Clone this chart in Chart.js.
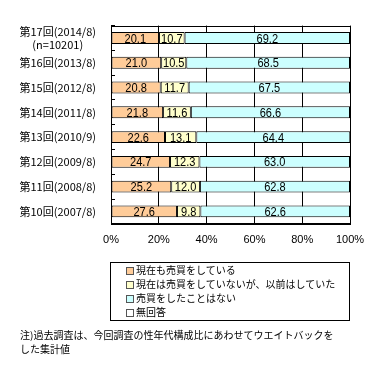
<!DOCTYPE html>
<html>
<head>
<meta charset="utf-8">
<script src="https://cdn.jsdelivr.net/npm/chart.js@4"></script>
<style>
  body { margin: 0; background: #fff; }
  #wrap { position: relative; width: 386px; height: 377px; }
  #legend {
    position: absolute; left: 110px; top: 262px; width: 240px; height: 59px;
    box-sizing: border-box; border: 1px solid #000; padding: 0 0 0 15px;
    font: 10px "Noto Sans CJK JP", sans-serif; line-height: 14px; color: #000;
  }
  #legend .sw {
    display: inline-block; width: 6px; height: 6px; border: 1px solid #555;
    margin-right: 2px; vertical-align: -1px;
  }
  #note {
    position: absolute; left: 20px; top: 328px; width: 360px;
    font: 10px "Noto Sans CJK JP", sans-serif; line-height: 14px; color: #000;
  }
</style>
</head>
<body>
<div id="wrap">
  <canvas id="survey" width="386" height="377"></canvas>
  <div id="legend"></div>
  <div id="note">注)過去調査は、今回調査の性年代構成比にあわせてウエイトバックを<br>した集計値</div>
</div>
<script>
// survey rounds, newest on top
var rounds = ['第17回(2014/8)', '第16回(2013/8)', '第15回(2012/8)', '第14回(2011/8)',
              '第13回(2010/9)', '第12回(2009/8)', '第11回(2008/8)', '第10回(2007/8)'];
var sampleSize = '(n=10201)';
var seriesNames = ['現在も売買をしている', '現在は売買をしていないが、以前はしていた', '売買をしたことはない', '無回答'];
var tradingNow = [20.1, 21.0, 20.8, 21.8, 22.6, 24.7, 25.2, 27.6];
var tradedBefore = [10.7, 10.5, 11.7, 11.6, 13.1, 12.3, 12.0, 9.8];
var neverTraded = [69.2, 68.5, 67.5, 66.6, 64.4, 63.0, 62.8, 62.6];
var noAnswer = [0, 0, 0, 0, 0, 0, 0, 0];
var pctTicks = [0, 20, 40, 60, 80, 100];

var colors = ['#FFCC99', '#FFFFCC', '#CCFFFF', '#FFFFFF'];
var numFamily = '"Liberation Sans Narrow", "Liberation Sans", sans-serif';

var yLabels = rounds.map(function (r, i) { return i === 0 ? [r, sampleSize] : r; });

// border round the plot, value text in the middle of every segment
var segmentLabels = {
  id: 'segmentLabels',
  beforeDatasetsDraw: function (chart) {
    var a = chart.chartArea, ctx = chart.ctx;
    ctx.save();
    ctx.strokeStyle = '#000';
    ctx.lineWidth = 1;
    ctx.strokeRect(Math.round(a.left) + 0.5, Math.round(a.top) + 0.5,
                   Math.round(a.right - a.left), Math.round(a.bottom - a.top));
    ctx.restore();
  },
  afterDatasetsDraw: function (chart) {
    var ctx = chart.ctx;
    chart.data.datasets.forEach(function (ds, i) {
      chart.getDatasetMeta(i).data.forEach(function (bar, j) {
        var v = ds.data[j];
        if (!v) return;
        var p = bar.getProps(['x', 'y', 'base'], true);
        ctx.save();
        ctx.translate((p.x + p.base) / 2, p.y + 1);
        ctx.scale(0.85, 1);
        ctx.font = '13px ' + numFamily;
        ctx.fillStyle = '#000';
        ctx.textAlign = 'center';
        ctx.textBaseline = 'middle';
        ctx.fillText(v.toFixed(1), 0, 0);
        ctx.restore();
      });
    });
  }
};

var datasets = [tradingNow, tradedBefore, neverTraded, noAnswer].map(function (d, i) {
  return {
    label: seriesNames[i],
    data: d,
    backgroundColor: colors[i],
    borderColor: '#000',
    borderWidth: 1,
    borderSkipped: false,
    categoryPercentage: 1,
    barPercentage: 0.48
  };
});

var chart = new Chart(document.getElementById('survey').getContext('2d'), {
  type: 'bar',
  data: { labels: yLabels, datasets: datasets },
  options: {
    indexAxis: 'y',
    responsive: false,
    animation: false,
    layout: { padding: { top: 19, right: 36, bottom: 120, left: 17 } },
    plugins: { legend: { display: false }, tooltip: { enabled: false } },
    scales: {
      x: {
        stacked: true,
        min: 0,
        max: 100,
        afterBuildTicks: function (s) { s.ticks = pctTicks.map(function (v) { return { value: v }; }); },
        ticks: {
          color: '#000',
          font: { family: numFamily, size: 11 },
          padding: 10,
          callback: function (v) { return v + '%'; }
        },
        grid: { color: '#000', drawTicks: false },
        border: { color: '#000' }
      },
      y: {
        stacked: true,
        afterFit: function (s) { s.width = 94; },
        ticks: {
          color: '#000',
          autoSkip: false,
          crossAlign: 'center',
          padding: 19,
          font: { family: '"Noto Sans CJK JP", sans-serif', size: 11 }
        },
        grid: { offset: true, drawOnChartArea: false, tickLength: -4, color: '#000' },
        border: { color: '#000' }
      }
    }
  },
  plugins: [segmentLabels]
});

// legend list built from the chart's datasets
var legend = document.getElementById('legend');
chart.data.datasets.forEach(function (ds) {
  var row = document.createElement('div');
  var sw = document.createElement('span');
  sw.className = 'sw';
  sw.style.background = ds.backgroundColor;
  row.appendChild(sw);
  row.appendChild(document.createTextNode(ds.label));
  legend.appendChild(row);
});
</script>
</body>
</html>
